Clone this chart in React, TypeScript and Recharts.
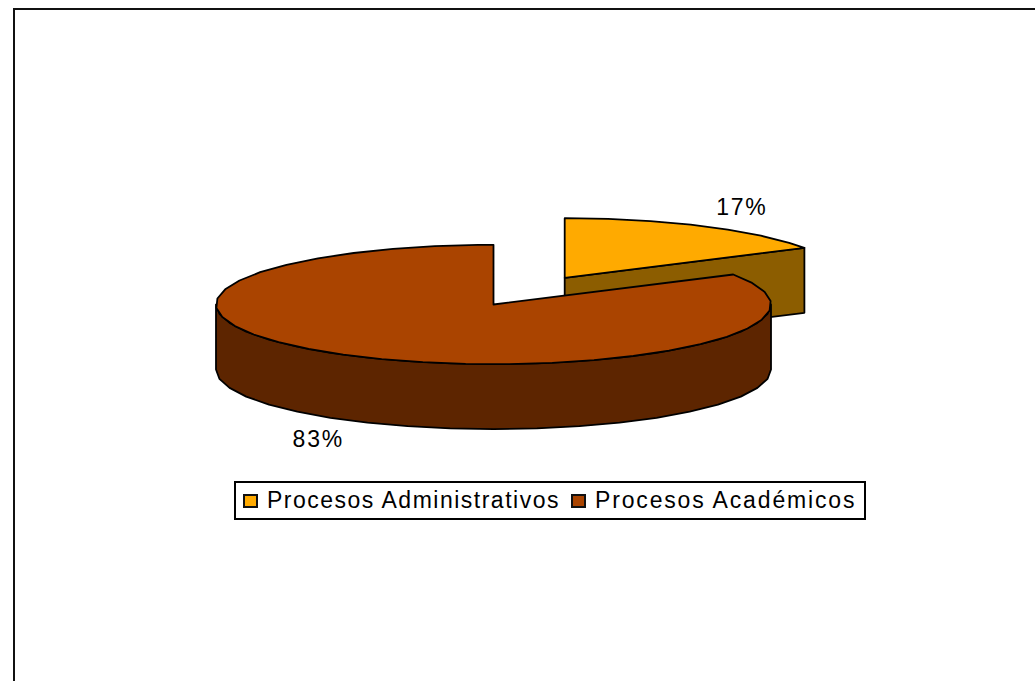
import { Legend, Pie, PieChart } from "recharts";

const processNames = ["Procesos Administrativos", "Procesos Académicos"];
const shares = [16.6, 83.4];
const topColors = ["#FFAA00", "#AA4400"];
const sideColors = ["#8C5D00", "#5D2500"];
const explodedShares = [0.515, 0];

const pieData = processNames.map((name, i) => ({
  name,
  value: shares[i],
  fill: topColors[i],
}));

const TILT = 0.215; // vertical squash of the disc
const DEPTH = 65;
const FACET = 9; // the original rim is visibly faceted
const FONT = "'Liberation Sans', Arial, sans-serif";

const rad = (deg: number) => (deg * Math.PI) / 180;

// angles below are clockwise from 12 o'clock
function rimPoint(cx: number, cy: number, r: number, a: number) {
  return [cx + r * Math.sin(rad(a)), cy - r * TILT * Math.cos(rad(a))];
}

function arcPoints(cx: number, cy: number, r: number, a0: number, a1: number) {
  const pts: number[][] = [];
  for (let a = a0; a < a1; a += FACET) pts.push(rimPoint(cx, cy, r, a));
  pts.push(rimPoint(cx, cy, r, a1));
  return pts;
}

const toPath = (pts: number[][]) =>
  "M" + pts.map((p) => `${p[0].toFixed(1)},${p[1].toFixed(1)}`).join("L") + "Z";

function explodedCenter(props: any) {
  const idx = processNames.indexOf(props.name);
  const mid = 90 - props.midAngle;
  const k = explodedShares[idx];
  const r = props.outerRadius;
  return {
    idx,
    mid,
    x: props.cx + k * r * Math.sin(rad(mid)),
    y: props.cy - k * r * TILT * Math.cos(rad(mid)),
  };
}

function Slice3D(props: any) {
  const { outerRadius: r, startAngle, endAngle } = props;
  const { idx, x, y } = explodedCenter(props);
  const a0 = 90 - startAngle;
  const a1 = 90 - endAngle;
  const line = { stroke: "#000", strokeWidth: 1.8, strokeLinejoin: "round" as const };
  const side = sideColors[idx];

  const faces: number[][][] = [];
  // cut faces that look towards the viewer
  if (Math.sin(rad(a0)) < -0.001) {
    const p = rimPoint(x, y, r, a0);
    faces.push([[x, y], p, [p[0], p[1] + DEPTH], [x, y + DEPTH]]);
  }
  if (Math.sin(rad(a1)) > 0.001) {
    const p = rimPoint(x, y, r, a1);
    faces.push([[x, y], p, [p[0], p[1] + DEPTH], [x, y + DEPTH]]);
  }
  // outer wall, front half of the rim only
  const from = Math.max(a0, 90);
  const to = Math.min(a1, 270);
  if (to > from) {
    const front = arcPoints(x, y, r, from, to);
    const lower = front.map((p) => [p[0], p[1] + DEPTH]).reverse();
    faces.push([...front, ...lower]);
  }

  return (
    <g>
      {faces.map((f, i) => (
        <path key={i} d={toPath(f)} fill={side} {...line} />
      ))}
      <path d={toPath([[x, y], ...arcPoints(x, y, r, a0, a1)])} fill={props.fill} {...line} />
    </g>
  );
}

function SliceLabel(props: any) {
  const { x, y, mid } = explodedCenter(props);
  const reach = props.outerRadius * 1.26;
  const c = Math.cos(rad(mid));
  const ly = y - reach * TILT * c + (c < 0 ? DEPTH + 4 : -6);
  const lx = x + reach * Math.sin(rad(mid)) + (c < 0 ? -1 : 3);
  return (
    <text
      x={lx}
      y={ly}
      textAnchor="middle"
      dominantBaseline="central"
      fontFamily={FONT}
      fontSize={23}
      fill="#000"
      letterSpacing={1.8}
    >
      {Math.round(props.percent * 100)}%
    </text>
  );
}

function LegendBox({ payload }: any) {
  return (
    <div
      style={{
        boxSizing: "border-box",
        width: 632,
        height: 39,
        border: "2px solid #000",
        background: "#fff",
        display: "flex",
        alignItems: "center",
        paddingLeft: 7,
        fontFamily: FONT,
        fontSize: 23,
        color: "#000",
        whiteSpace: "nowrap",
      }}
    >
      {(payload || []).map((item: any, i: number) => (
        <span
          key={item.value}
          style={{
            display: "flex",
            alignItems: "center",
            marginRight: 11,
            letterSpacing: i === 0 ? 1.5 : 1.85,
          }}
        >
          <span
            style={{
              display: "inline-block",
              boxSizing: "border-box",
              width: 15,
              height: 14,
              marginRight: 9,
              background: item.color,
              border: "2px solid #111",
            }}
          />
          {item.value}
        </span>
      ))}
    </div>
  );
}

export default function App() {
  return (
    <div style={{ position: "absolute", left: 0, top: 0, width: 1035, height: 681, overflow: "hidden", background: "#fff" }}>
      <div
        style={{
          position: "absolute",
          left: 13,
          top: 8,
          width: 1022,
          height: 673,
          boxSizing: "border-box",
          borderTop: "2px solid #111",
          borderLeft: "2px solid #111",
        }}
      />
      <PieChart
        width={1035}
        height={681}
        margin={{ top: 0, right: 0, bottom: 0, left: 0 }}
        style={{ position: "absolute", left: 0, top: 0 }}
      >
        <Pie
          data={pieData}
          dataKey="value"
          nameKey="name"
          cx={493.5}
          cy={304.5}
          outerRadius={277.5}
          startAngle={90}
          endAngle={-270}
          stroke="#000"
          shape={Slice3D}
          label={SliceLabel}
          labelLine={false}
          isAnimationActive={false}
        />
        <Legend
          content={LegendBox}
          itemSorter={null}
          wrapperStyle={{ position: "absolute", left: 234, top: 481, width: 632, height: 39, bottom: "auto" }}
        />
      </PieChart>
    </div>
  );
}
